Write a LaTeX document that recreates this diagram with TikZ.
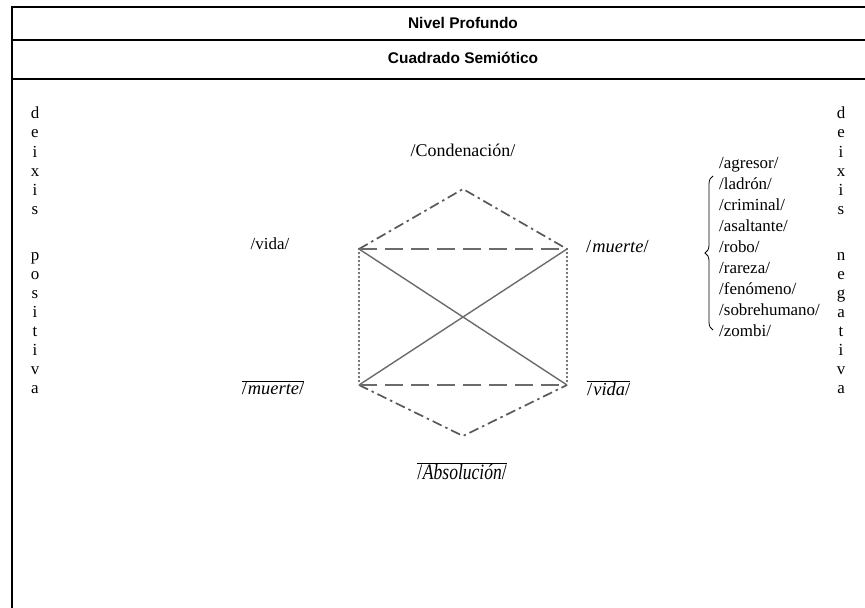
\documentclass[tikz,border=0pt]{standalone}
\usepackage{fontspec}
\setmainfont{Liberation Serif}
\newfontfamily\headfont{Liberation Sans}
\usetikzlibrary{decorations.pathreplacing}
\begin{document}
\begin{tikzpicture}[x=1bp,y=-1bp,
  frame/.style={line width=2.2bp,black},
  rowline/.style={line width=1.2bp,black},
  edge/.style={draw=black!58,line width=1.4bp},
  dashdot/.style={edge,draw=black!65,line width=1.7bp,dash pattern=on 10bp off 4bp on 2.5bp off 4bp},
  longdash/.style={edge,dash pattern=on 18bp off 8bp},
  dots/.style={edge,draw=black!72,line width=2.3bp,line cap=round,dash pattern=on 0bp off 4bp},
  lbl/.style={inner sep=0pt,font=\fontsize{17}{20}\selectfont},
  ital/.style={inner sep=0pt,font=\fontsize{18.5}{21}\selectfont},
  head/.style={inner sep=0pt,font=\headfont\bfseries\fontsize{15.5}{18}\selectfont},
  vert/.style={inner sep=0pt,align=center,anchor=north,font=\fontsize{17}{19.1}\selectfont},
]
\useasboundingbox (0,0) rectangle (865,608);

% table frame and header rows
\draw[frame] (12,608) -- (12,7) -- (865,7);
\draw[rowline] (12,40) -- (865,40);
\draw[rowline] (12,79) -- (865,79);
\node[head] (nivel) at (463,23) {Nivel Profundo};
\node[head] (cuad) at (463,58) {Cuadrado Semiótico};

% corners of the semiotic square
\coordinate (T) at (463,189);
\coordinate (A) at (359,249);
\coordinate (B) at (567,249);
\coordinate (C) at (359,385);
\coordinate (D) at (567,385);
\coordinate (Bt) at (463,436);

\draw[dashdot] (A) -- (T) -- (B);
\draw[dashdot] (C) -- (Bt) -- (D);
\draw[longdash] (A) -- (B);
\draw[longdash] (C) -- (D);
\draw[dots] (A) -- (C);
\draw[dots] (B) -- (D);
\draw[edge] (A) -- (D);
\draw[edge] (B) -- (C);

% terms
\node[lbl,font=\fontsize{18}{20}\selectfont] (cond) at (463,150) {/Condenación/};
\node[lbl] (vida) at (270,244) {/vida/};
\node[ital,anchor=west] (muerte) at (586,247) {/\kern1bp\textit{muerte}/};
\node[ital] (nmuerte) at (273,388) {$\overline{\mbox{/\kern1bp\textit{muerte}/}}$};
\node[ital,anchor=west] (nvida) at (587,388) {$\overline{\mbox{/\kern1bp\textit{vida}/}}$};
\node[ital,font=\fontsize{22}{24}\selectfont] (absol) at (462,471) {$\overline{\mbox{\scalebox{0.8}[1]{/\kern1bp\textit{Absolución}/}}}$};

% list of figures of the negative deixis
\node[lbl,anchor=north west,align=left,font=\fontsize{17}{21.1}\selectfont] (lista) at (719,157)
  {/agresor/\\/ladrón/\\/criminal/\\/asaltante/\\/robo/\\/rareza/\\/fenómeno/\\/sobrehumano/\\/zombi/};
\coordinate (brtop) at (713,176);
\coordinate (brbot) at (713,330);
\draw[line width=0.8bp,decorate,decoration={brace,amplitude=8bp}] (brbot) -- (brtop);

% deixis columns
\node[vert] (dpos) at (35,107) {d\\e\\i\\x\\i\\s\\[27bp]p\\o\\s\\i\\t\\i\\v\\a};
\node[vert] (dneg) at (841,107) {d\\e\\i\\x\\i\\s\\[27bp]n\\e\\g\\a\\t\\i\\v\\a};
\end{tikzpicture}
\end{document}
